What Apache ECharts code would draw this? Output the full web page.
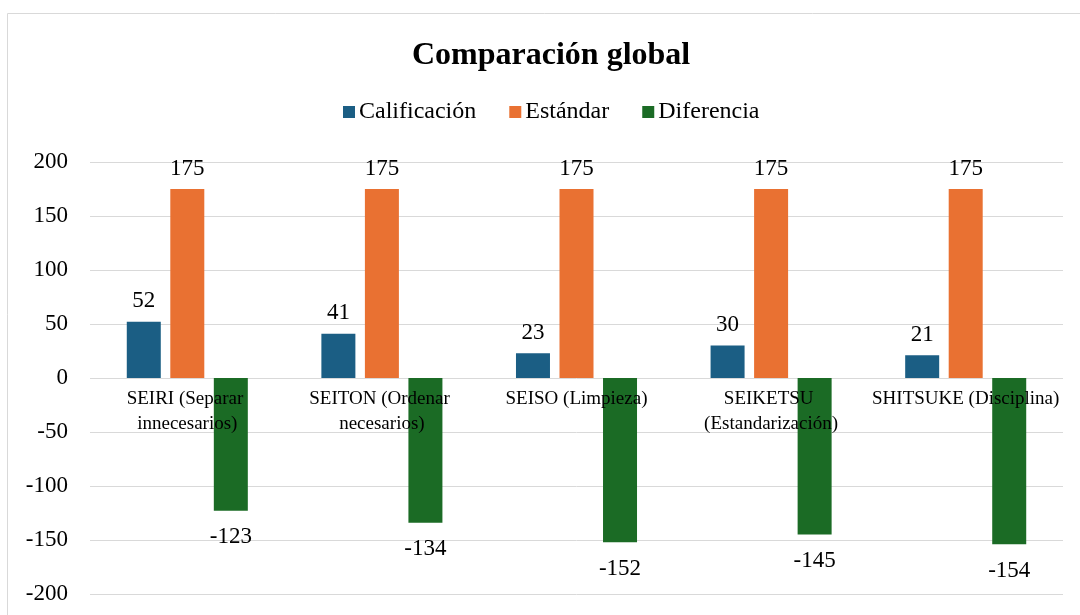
<!DOCTYPE html>
<html><head><meta charset="utf-8">
<script src="https://cdn.jsdelivr.net/npm/echarts@6/dist/echarts.min.js"></script>
<style>html,body{margin:0;padding:0;background:#fff}#c{width:1080px;height:615px}</style>
</head><body><div id="c"></div>
<script>
const categories = ['SEIRI (Separar innecesarios)', 'SEITON (Ordenar necesarios)', 'SEISO (Limpieza)', 'SEIKETSU (Estandarización)', 'SHITSUKE (Disciplina)'];
const calificacion = [52, 41, 23, 30, 21];
const estandar = [175, 175, 175, 175, 175];
const diferencia = [-123, -134, -152, -145, -154];
const yTicks = [-200, 200, 50];

const FONT = '"Liberation Serif", "Times New Roman", serif';
const chart = echarts.init(document.getElementById('c'), null, {renderer: 'canvas'});
const lbl = (pos, dist) => ({show: true, position: pos, distance: dist, fontFamily: FONT, fontSize: 23, color: '#000'});
chart.setOption({
  animation: false,
  textStyle: {fontFamily: FONT},
  graphic: [{type: 'rect', shape: {x: 7.5, y: 13.5, width: 1100, height: 700}, style: {fill: 'none', stroke: '#D9D9D9', lineWidth: 1}, z: -1}],
  title: {text: 'Comparación global', left: 412, top: 40, padding: 0,
    textStyle: {fontFamily: FONT, fontSize: 32, fontWeight: 'bold', color: '#000'}},
  legend: {left: 343, top: 100, padding: 0, itemWidth: 12, itemHeight: 12, itemGap: 33,
    icon: 'rect', textStyle: {fontFamily: FONT, fontSize: 24, color: '#000', padding: [0, 0, 0, -1]},
    data: ['Calificación', 'Estándar', 'Diferencia']},
  grid: {left: 90, right: 17, top: 162, bottom: 21, containLabel: false, outerBoundsMode: 'none'},
  xAxis: {type: 'category', data: categories, z: 10, position: 'bottom', offset: -216,
    axisLine: {show: false, onZero: false}, axisTick: {show: false},
    axisLabel: {interval: 0, margin: 9, fontFamily: FONT, fontSize: 19, color: '#000', lineHeight: 25,
      width: 194, overflow: 'break', verticalAlign: 'top'}},
  yAxis: {type: 'value', min: yTicks[0], max: yTicks[1], interval: yTicks[2],
    axisLine: {show: false}, axisTick: {show: false},
    axisLabel: {margin: 22, fontFamily: FONT, fontSize: 23, color: '#000'},
    splitLine: {lineStyle: {color: '#D9D9D9', width: 1}}},
  series: [
    {name: 'Calificación', type: 'bar', data: calificacion, barWidth: 34, barGap: '28%',
     itemStyle: {color: '#1B5E84'}, label: lbl('top', 9)},
    {name: 'Estándar', type: 'bar', data: estandar, barWidth: 34, barGap: '28%',
     itemStyle: {color: '#E97132'}, label: lbl('top', 9)},
    {name: 'Diferencia', type: 'bar', data: diferencia, barWidth: 34, barGap: '28%',
     itemStyle: {color: '#1B6B25'}, label: lbl('bottom', 15)}
  ]
});
</script></body></html>
